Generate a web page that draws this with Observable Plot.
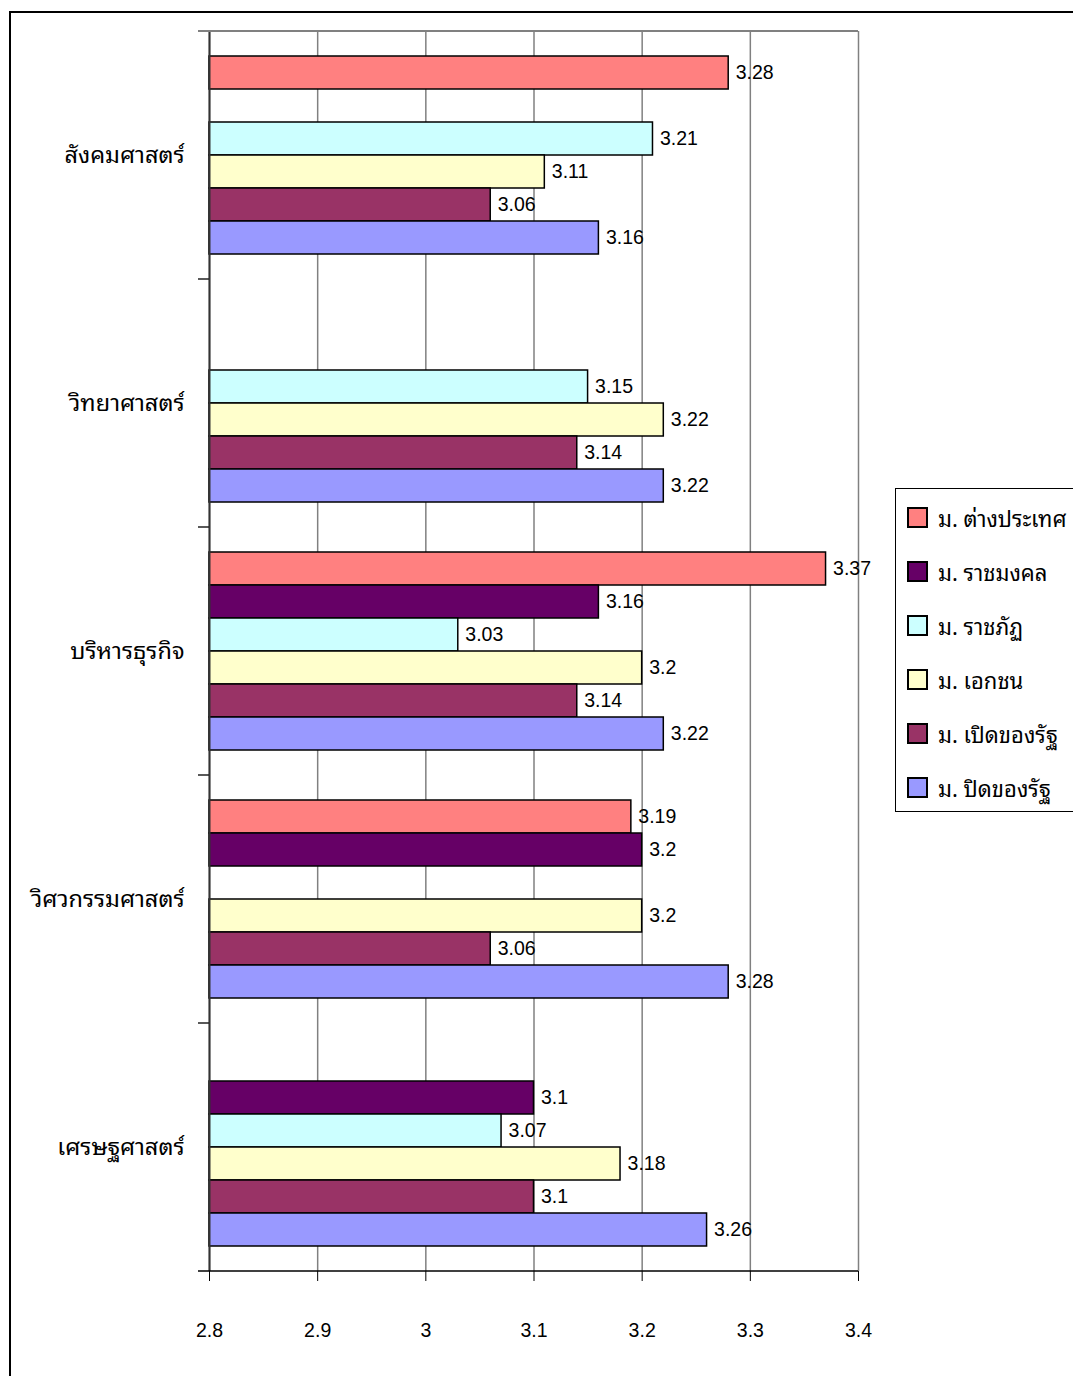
<!DOCTYPE html>
<html>
<head>
<meta charset="utf-8">
<script src="https://cdn.jsdelivr.net/npm/d3@7"></script>
<script src="https://cdn.jsdelivr.net/npm/@observablehq/plot@0.6"></script>
<style>
  html, body { margin: 0; padding: 0; background: #fff; width: 1073px; height: 1376px; overflow: hidden; }
  #wrap { position: relative; width: 1073px; height: 1376px; }
  #outer { position: absolute; left: 9px; top: 11px; width: 1100px; height: 1400px; border: 2px solid #000; box-sizing: border-box; }
  #chart { position: absolute; left: 0; top: 0; }
  #legend { position: absolute; left: 895px; top: 488px; width: 200px; height: 324px; border: 1px solid #000; box-sizing: border-box; background: #fff;
            font-family: "Noto Sans Thai Looped", Tahoma, "Noto Sans Thai", "Noto Sans", "DejaVu Sans", sans-serif; font-size: 22px; }
  .item { position: absolute; left: 11px; height: 24px; display: flex; align-items: center; white-space: nowrap; }
  .sw { width: 17px; height: 17px; border: 2px solid #000; margin-right: 10px; flex: none; }
</style>
</head>
<body>
<div id="wrap">
  <div id="outer"></div>
  <div id="chart"></div>
  <div id="legend"></div>
</div>
<script>
const categories = ["สังคมศาสตร์", "วิทยาศาสตร์", "บริหารธุรกิจ", "วิศวกรรมศาสตร์", "เศรษฐศาสตร์"];
const series = ["ม. ต่างประเทศ", "ม. ราชมงคล", "ม. ราชภัฏ", "ม. เอกชน", "ม. เปิดของรัฐ", "ม. ปิดของรัฐ"];
const colors = ["#FF8080", "#660066", "#CCFFFF", "#FFFFCC", "#993366", "#9999FF"];
// values per series, in category order (null = no bar)
const foreign     = [3.28, null, 3.37, 3.19, null];
const rajamangala = [null, null, 3.16, 3.2, 3.1];
const rajabhat    = [3.21, 3.15, 3.03, null, 3.07];
const privateU    = [3.11, 3.22, 3.2, 3.2, 3.18];
const openU       = [3.06, 3.14, 3.14, 3.06, 3.1];
const closedU     = [3.16, 3.22, 3.22, 3.28, 3.26];
const xDomain = [2.8, 3.4];
const xTicks = [2.8, 2.9, 3, 3.1, 3.2, 3.3, 3.4];

const seriesValues = [foreign, rajamangala, rajabhat, privateU, openU, closedU];
const data = [];
categories.forEach((c, i) => seriesValues.forEach((vals, j) => {
  if (vals[i] != null) data.push({category: c, series: series[j], value: vals[i]});
}));

const thaiFont = '"Noto Sans Thai Looped", Tahoma, "Noto Sans Thai", "Noto Sans", "DejaVu Sans", sans-serif';

const plot = Plot.plot({
  width: 1073,
  height: 1376,
  marginTop: 30,
  marginBottom: 105,
  marginLeft: 209,
  marginRight: 215,
  style: {fontFamily: '"Liberation Sans", Arial, sans-serif', fontSize: "19px", background: "transparent", overflow: "visible", color: "#000"},
  x: {domain: xDomain, axis: null},
  y: {domain: series, paddingInner: 0, paddingOuter: 0.75, axis: null},
  fy: {domain: categories, padding: 0, axis: null},
  color: {domain: series, range: colors},
  marks: [
    Plot.gridX(xTicks, {stroke: "#808080", strokeOpacity: 1, strokeWidth: 1.5}),
    Plot.barX(data, {fy: "category", y: "series", x1: xDomain[0], x2: "value", fill: "series", stroke: "#000", strokeWidth: 1.5, inset: 0}),
    Plot.text(data, {fy: "category", y: "series", x: "value", text: d => String(d.value), textAnchor: "start", dx: 7, fontSize: 19.5, fill: "#000"}),
    Plot.ruleX([xDomain[0]], {stroke: "#333", strokeWidth: 2}),
    Plot.axisX({ticks: xTicks, tickSize: 10, tickPadding: 42, fontSize: 19.5, tickFormat: d => String(d), stroke: "#000", fill: "#000", label: null}),
    Plot.axisFy({anchor: "left", tickSize: 0, tickPadding: 25, fontSize: 23.5, label: null, fontFamily: thaiFont, fill: "#000"})
  ]
});
document.getElementById("chart").appendChild(plot);

// Excel-style frame: top border, category boundary ticks, bottom axis line
const svg = d3.select(plot);
const fy = plot.scale("fy");
const xs = plot.scale("x");
const x0 = xs.apply(xDomain[0]);
const x1 = xs.apply(xDomain[1]);
const bounds = categories.map(c => fy.apply(c));
const bottom = fy.apply(categories[categories.length - 1]) + fy.bandwidth;
const g = svg.append("g");
g.append("line").attr("x1", x0 - 11).attr("x2", x1).attr("y1", bounds[0]).attr("y2", bounds[0])
  .attr("stroke", "#808080").attr("stroke-width", 2);
bounds.slice(1).forEach(b => {
  g.append("line").attr("x1", x0 - 11).attr("x2", x0).attr("y1", b).attr("y2", b)
    .attr("stroke", "#222").attr("stroke-width", 1.5);
});
g.append("line").attr("x1", x0 - 11).attr("x2", x1).attr("y1", bottom).attr("y2", bottom)
  .attr("stroke", "#000").attr("stroke-width", 1.5);

// Legend
const legend = d3.select("#legend");
series.forEach((s, i) => {
  const it = legend.append("div").attr("class", "item").style("top", (16 + i * 54) + "px");
  it.append("div").attr("class", "sw").style("background", colors[i]);
  it.append("span").text(s);
});
</script>
</body>
</html>
